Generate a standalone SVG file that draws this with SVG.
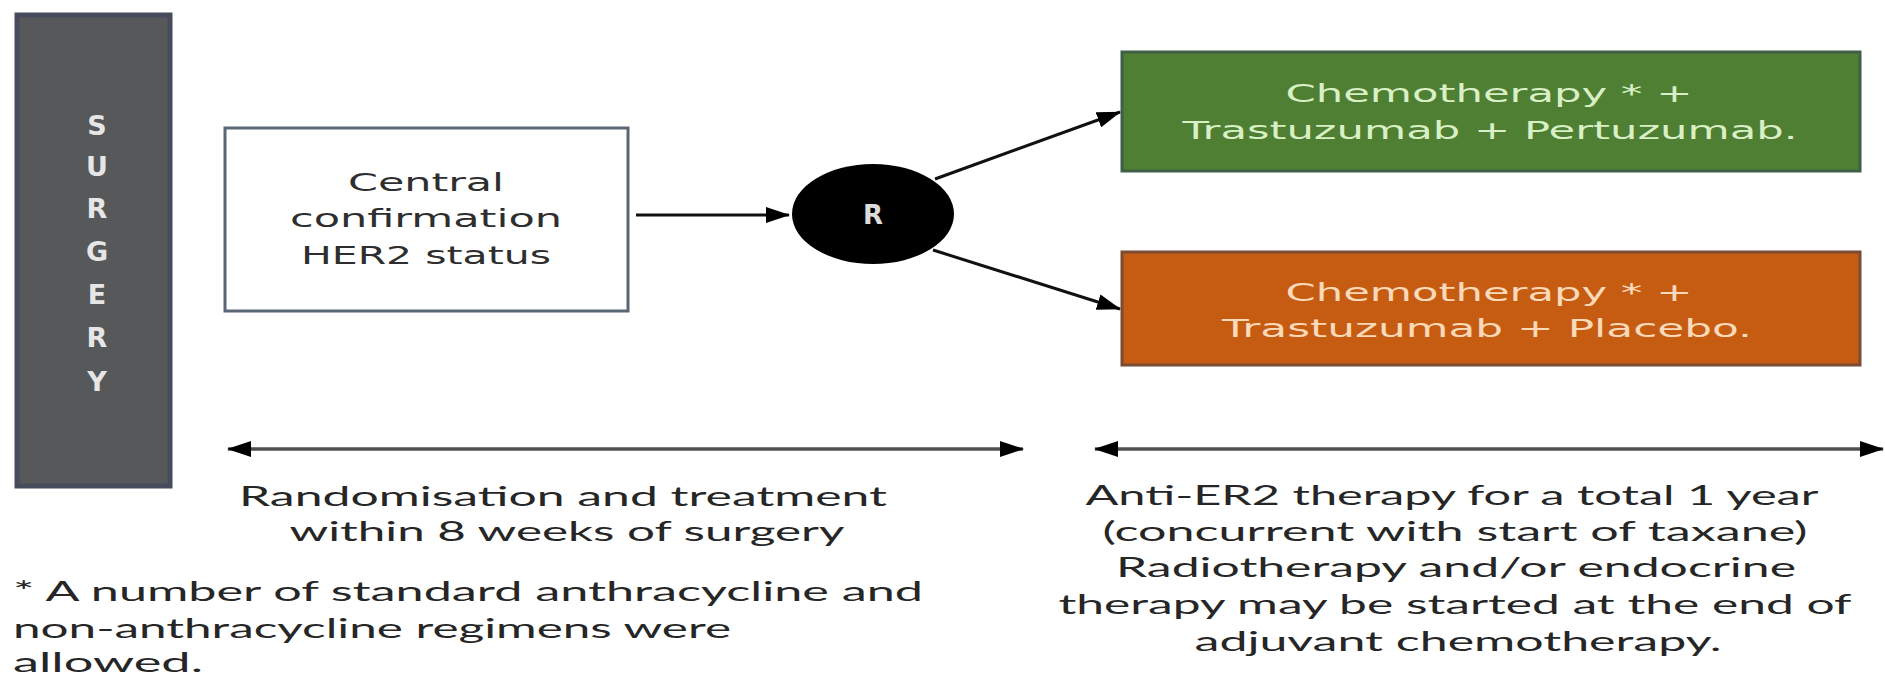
<svg xmlns="http://www.w3.org/2000/svg" width="1885" height="676" viewBox="0 0 1885 676">
<style>
.box{font-family:"DejaVu Sans",Verdana,sans-serif;font-size:24px;text-anchor:middle}
.dark{fill:#2e2e2e}
.green{fill:#d9f0c6}
.orange{fill:#fbd9b9}
.vert{font-family:"DejaVu Sans",sans-serif;font-weight:bold;font-size:27px;fill:#e6e6e6;text-anchor:middle}
.note{font-family:Lato,"Open Sans",sans-serif;font-size:26px;fill:#262626}
.mid{text-anchor:middle}
.conn{stroke:#111;stroke-width:3;fill:none}
.span{stroke:#505050;stroke-width:3.5;fill:none}
</style>
<defs>
<marker id="ah" markerUnits="userSpaceOnUse" markerWidth="24" markerHeight="16" refX="23" refY="8" orient="auto-start-reverse">
<path d="M0,0 L24,8 L0,16 Z" fill="#000"/>
</marker>
</defs>
<rect width="1885" height="676" fill="#fff"/>

<g id="surgery">
<rect x="17" y="15" width="153" height="471" fill="#56585a" stroke="#474c5d" stroke-width="5"/>
<text class="vert" x="97" y="135">S</text>
<text class="vert" x="97" y="176">U</text>
<text class="vert" x="97" y="218">R</text>
<text class="vert" x="97" y="261">G</text>
<text class="vert" x="97" y="304">E</text>
<text class="vert" x="97" y="347">R</text>
<text class="vert" x="97" y="391">Y</text>
</g>

<g id="central">
<rect x="225" y="128" width="403" height="183" fill="#fff" stroke="#5b6675" stroke-width="3"/>
<text class="box dark" x="426" y="191" textLength="156" lengthAdjust="spacingAndGlyphs">Central</text>
<text class="box dark" x="426" y="227" textLength="272" lengthAdjust="spacingAndGlyphs">confirmation</text>
<text class="box dark" x="426" y="264" textLength="250" lengthAdjust="spacingAndGlyphs">HER2 status</text>
</g>

<g id="randomise">
<ellipse cx="873" cy="214" rx="81" ry="50" fill="#000"/>
<text x="873" y="224" font-family="DejaVu Sans,sans-serif" font-weight="bold" font-size="26" fill="#dcdcdc" text-anchor="middle">R</text>
</g>

<g id="arm-pertuzumab">
<rect x="1122" y="52" width="738" height="119" fill="#4f7f32" stroke="#3f5f48" stroke-width="3"/>
<text class="box green" x="1489" y="102" textLength="407" lengthAdjust="spacingAndGlyphs">Chemotherapy * +</text>
<text class="box green" x="1490" y="139" textLength="615" lengthAdjust="spacingAndGlyphs">Trastuzumab + Pertuzumab.</text>
</g>

<g id="arm-placebo">
<rect x="1122" y="252" width="738" height="113" fill="#c65c12" stroke="#7b4b33" stroke-width="3"/>
<text class="box orange" x="1489" y="301" textLength="407" lengthAdjust="spacingAndGlyphs">Chemotherapy * +</text>
<text class="box orange" x="1487" y="337" textLength="530" lengthAdjust="spacingAndGlyphs">Trastuzumab + Placebo.</text>
</g>

<g id="connectors">
<line class="conn" x1="636" y1="215" x2="789" y2="215" marker-end="url(#ah)"/>
<line class="conn" x1="935" y1="179" x2="1120" y2="112" marker-end="url(#ah)"/>
<line class="conn" x1="933" y1="250" x2="1120" y2="309" marker-end="url(#ah)"/>
<line class="span" x1="228" y1="449" x2="1023" y2="449" marker-start="url(#ah)" marker-end="url(#ah)"/>
<line class="span" x1="1095" y1="449" x2="1883" y2="449" marker-start="url(#ah)" marker-end="url(#ah)"/>
</g>

<g id="label-randomisation">
<text class="note mid" x="563" y="506" textLength="648" lengthAdjust="spacingAndGlyphs">Randomisation and treatment</text>
<text class="note mid" x="567" y="541" textLength="555" lengthAdjust="spacingAndGlyphs">within 8 weeks of surgery</text>
</g>

<g id="label-footnote">
<text class="note" x="13" y="601" textLength="910" lengthAdjust="spacingAndGlyphs">* A number of standard anthracycline and</text>
<text class="note" x="13" y="638" textLength="718" lengthAdjust="spacingAndGlyphs">non-anthracycline regimens were</text>
<text class="note" x="13" y="672" textLength="190" lengthAdjust="spacingAndGlyphs">allowed.</text>
</g>

<g id="label-antiher2">
<text class="note mid" x="1452" y="505" textLength="733" lengthAdjust="spacingAndGlyphs">Anti-ER2 therapy for a total 1 year</text>
<text class="note mid" x="1455" y="541" textLength="705" lengthAdjust="spacingAndGlyphs">(concurrent with start of taxane)</text>
<text class="note mid" x="1456" y="577" textLength="680" lengthAdjust="spacingAndGlyphs">Radiotherapy and/or endocrine</text>
<text class="note mid" x="1455" y="614" textLength="793" lengthAdjust="spacingAndGlyphs">therapy may be started at the end of</text>
<text class="note mid" x="1458" y="651" textLength="527" lengthAdjust="spacingAndGlyphs">adjuvant chemotherapy.</text>
</g>
</svg>
